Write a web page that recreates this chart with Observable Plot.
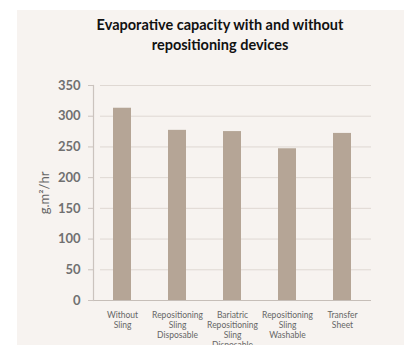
<!DOCTYPE html>
<html>
<head>
<meta charset="utf-8">
<script src="https://cdn.jsdelivr.net/npm/d3@7"></script>
<script src="https://cdn.jsdelivr.net/npm/@observablehq/plot@0.6"></script>
<style>
  html, body { margin: 0; padding: 0; background: #ffffff; }
  #panel {
    position: absolute; left: 17px; top: 10px; width: 387px; height: 335px;
    background: #f7f3f0; overflow: hidden; font-family: Lato, "Open Sans", sans-serif;
  }
  #title {
    height: 50px; box-sizing: border-box; padding: 5px 0 0 19px;
    text-align: center; font-weight: bold; font-size: 14.5px; line-height: 20px; color: #111;
  }
  svg { display: block; }
</style>
</head>
<body>
<div id="panel">
  <div id="title">Evaporative capacity with and without<br>repositioning devices</div>
  <div id="chart"></div>
</div>
<script>
// Evaporative capacity per device (g.m²/hr)
const devices = [
  "Without\nSling",
  "Repositioning\nSling\nDisposable",
  "Bariatric\nRepositioning\nSling\nDisposable",
  "Repositioning\nSling\nWashable",
  "Transfer\nSheet"
];
const capacity = [313, 277, 275, 247, 272];
const yTicks = [0, 50, 100, 150, 200, 250, 300, 350];

const data = devices.map((d, i) => ({device: d, value: capacity[i]}));

const chart = Plot.plot({
  width: 387,
  height: 285,
  marginTop: 25,
  marginBottom: 45,
  marginLeft: 76,
  marginRight: 33,
  style: {background: "transparent", fontFamily: "Lato, 'Open Sans', sans-serif", color: "#666"},
  x: {domain: devices, paddingInner: 0.67, paddingOuter: 0.335, label: null},
  y: {domain: [0, 350], ticks: yTicks, label: "g.m²/hr"},
  marks: [
    Plot.ruleY(yTicks.filter(t => t > 0), {stroke: "#dfd8d3", strokeWidth: 1, insetLeft: 7}),
    Plot.barY(data, {x: "device", y: "value", fill: "#b5a596"}),
    Plot.ruleY([0], {stroke: "#c6beb8", strokeWidth: 1.2}),
    Plot.frame({anchor: "left", stroke: "#cbc3be", strokeWidth: 1.2}),
    // tick values (bold grey)
    Plot.axisY({ticks: yTicks, tickSize: 5, tickPadding: 8, fontSize: 13, fontWeight: "bold", stroke: "#cbc3be",
      fill: "#707070", label: null}),
    // axis title (regular weight)
    Plot.axisY({ticks: [], tickSize: 0, fontSize: 13, fill: "#666",
      label: "g.m²/hr", labelAnchor: "center", labelArrow: "none", labelOffset: 54}),
    Plot.axisX({tickSize: 0, tickPadding: 10, fontSize: 8.5, lineHeight: 1.2, fill: "#666", label: null})
  ]
});
document.getElementById("chart").appendChild(chart);
</script>
</body>
</html>
